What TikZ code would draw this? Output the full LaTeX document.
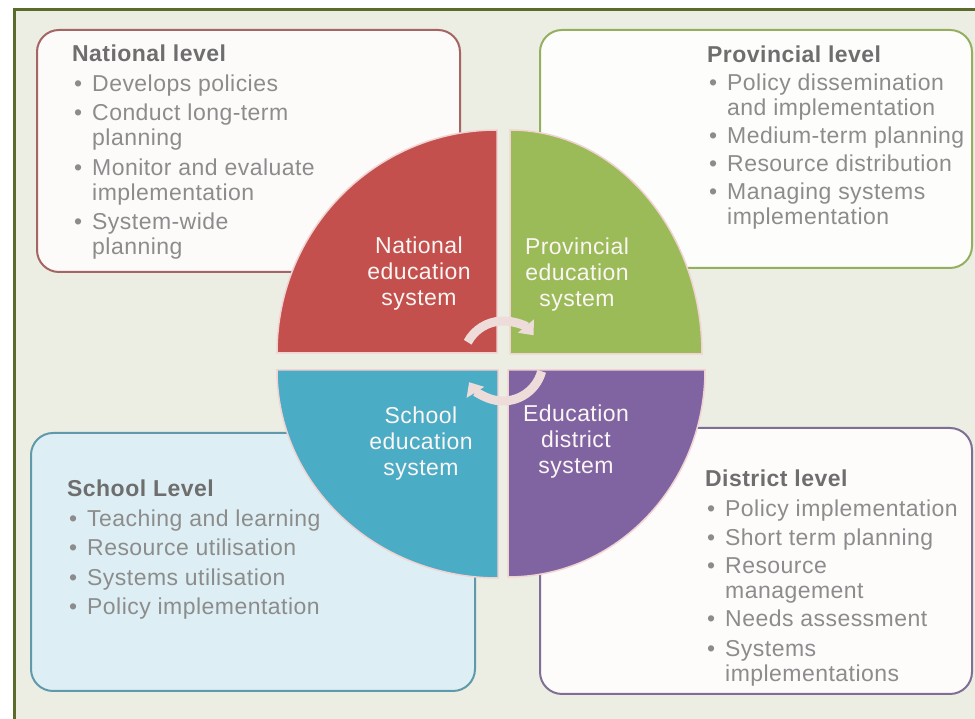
\documentclass[tikz,border=0pt]{standalone}
\usepackage{fontspec}
\setmainfont{Liberation Sans}[LetterSpace=2.0]
\usetikzlibrary{arrows.meta}

\definecolor{frameolive}{HTML}{5B6B2C}
\definecolor{paper}{HTML}{ECEEE3}
\definecolor{natred}{HTML}{C4504D}
\definecolor{provgreen}{HTML}{9BBB59}
\definecolor{schoolblue}{HTML}{4BACC6}
\definecolor{distpurple}{HTML}{8064A2}
\definecolor{turnpink}{HTML}{EEDCDA}
\definecolor{titlegray}{HTML}{6E6E6E}
\definecolor{itemgray}{HTML}{8C8C8C}

\newcommand{\lvbul}{\makebox[20pt][l]{\hspace{2pt}\textbullet}}
\newcommand{\lvind}{\hspace*{20pt}}
\newcommand{\lvtitle}[1]{{\color{titlegray}\bfseries #1}}

\tikzstyle{levbox} = [rounded corners=22pt, line width=2pt, inner sep=0pt]
\tikzstyle{levtext} = [anchor=north west, inner sep=0pt, align=left, text=itemgray, font=\fontsize{23}{25}\selectfont]
\tikzstyle{quad} = [draw=white!75!natred, line width=1.5pt]
\tikzstyle{quadlabel} = [align=center, inner sep=0pt, text=white!94!natred, font=\fontsize{23}{26}\selectfont]
\tikzstyle{turnarrow} = [line width=9pt, draw=turnpink, -{Triangle[width=20pt,length=12pt]}]

\begin{document}
\begin{tikzpicture}[x=1pt,y=1pt]
	\useasboundingbox (0,0) rectangle (975,719);
	\clip (0,0) rectangle (975,719);
	\fill[white] (0,0) rectangle (975,719);
	\draw[frameolive, fill=paper, line width=3pt] (14,709) rectangle (995,-20);

	% the four level boxes
	\node[levbox, draw=natred!55!gray, fill=white!97!natred, minimum width=423pt, minimum height=242pt] (natbox) at (248.5,568) {};
	\node[levbox, draw=provgreen!80!gray, fill=white!98!provgreen, minimum width=432pt, minimum height=238pt] (provbox) at (756,570) {};
	\node[levbox, draw=schoolblue!60!gray, fill=schoolblue!19!white, minimum width=444pt, minimum height=258pt] (schoolbox) at (253,157) {};
	\node[levbox, draw=distpurple!60!gray, fill=white!98!natred, minimum width=432pt, minimum height=266pt] (distbox) at (756,158) {};

	\node[levtext] (nattext) at (72,674) {\lvtitle{National level}\\[4.5pt]
		\lvbul Develops policies\\[4.5pt]
		\lvbul Conduct long-term\\ \lvind planning\\[4.5pt]
		\lvbul Monitor and evaluate\\ \lvind implementation\\[4.5pt]
		\lvbul System-wide\\ \lvind planning};
	\node[levtext] (provtext) at (707,673) {\lvtitle{Provincial level}\\[3pt]
		\lvbul Policy dissemination\\ \lvind and implementation\\[3pt]
		\lvbul Medium-term planning\\[3pt]
		\lvbul Resource distribution\\[3pt]
		\lvbul Managing systems\\ \lvind implementation};
	\node[levtext] (schooltext) at (67,239) {\lvtitle{School Level}\\[4.5pt]
		\lvbul Teaching and learning\\[4.5pt]
		\lvbul Resource utilisation\\[4.5pt]
		\lvbul Systems utilisation\\[4.5pt]
		\lvbul Policy implementation};
	\node[levtext] (disttext) at (705,249) {\lvtitle{District level}\\[4.5pt]
		\lvbul Policy implementation\\[4.5pt]
		\lvbul Short term planning\\[3pt]
		\lvbul Resource\\ \lvind management\\[3pt]
		\lvbul Needs assessment\\[4.5pt]
		\lvbul Systems\\ \lvind implementations};

	% quarter circles
	\filldraw[quad, fill=natred] (497,366) -- (277,366) arc[start angle=180, end angle=90, x radius=220, y radius=223] -- cycle;
	\filldraw[quad, fill=provgreen] (510,365) -- (510,589) arc[start angle=90, end angle=0, x radius=192, y radius=224] -- cycle;
	\filldraw[quad, fill=schoolblue] (498,349) -- (277,349) arc[start angle=180, end angle=270, x radius=221, y radius=208] -- cycle;
	\filldraw[quad, fill=distpurple] (508,349) -- (705,349) arc[start angle=0, end angle=-90, x radius=197, y radius=207] -- cycle;

	\node[quadlabel] (natsys) at (419,445) {National\\education\\system};
	\node[quadlabel] (provsys) at (577,444) {Provincial\\education\\system};
	\node[quadlabel] (schoolsys) at (421,275) {School\\education\\system};
	\node[quadlabel] (distsys) at (576,277) {Education\\district\\system};

	% cycle arrows in the middle
	\coordinate (hub) at (503,358);
	\draw[turnarrow] ([shift={(152:40)}]hub) arc[start angle=152, end angle=40, radius=40];
	\draw[turnarrow] ([shift={(-15:40)}]hub) arc[start angle=-15, end angle=-148, radius=40];
\end{tikzpicture}
\end{document}
